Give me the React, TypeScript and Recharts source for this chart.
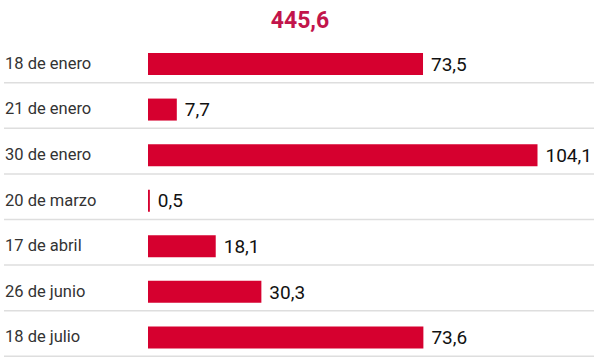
import { Bar, BarChart, LabelList, XAxis, YAxis } from "recharts";

const dates = [
  "18 de enero",
  "21 de enero",
  "30 de enero",
  "20 de marzo",
  "17 de abril",
  "26 de junio",
  "18 de julio",
];
const values = [73.5, 7.7, 104.1, 0.5, 18.1, 30.3, 73.6];
const total = "445,6";

const data = dates.map((d, i) => ({ date: d, value: values[i] }));

const fmt = (v: number) => v.toFixed(1).replace(".", ",");

function DateTick(props: any) {
  const { y, payload } = props;
  return (
    <g>
      <text
        x={5}
        y={y}
        dy={5}
        textAnchor="start"
        fontSize={16.5}
        fill="#333"
        fontFamily="Roboto, sans-serif"
      >
        {payload.value}
      </text>
      <line x1={4} x2={594} y1={y + 19} y2={y + 19} stroke="#dedede" strokeWidth={1.5} />
    </g>
  );
}

export default function App() {
  return (
    <div style={{ position: "absolute", left: 0, top: 0, width: 600, height: 360, background: "#fff", fontFamily: "Roboto, sans-serif" }}>
      <div
        style={{
          position: "absolute",
          top: 7,
          left: 0,
          width: 600,
          textAlign: "center",
          fontSize: 23,
          fontWeight: 700,
          color: "#c2154b",
          lineHeight: "28px",
        }}
      >
        {total}
      </div>
      <BarChart
        width={600}
        height={360}
        data={data}
        layout="vertical"
        margin={{ top: 41, right: 3, bottom: 0, left: 0 }}
        barCategoryGap={0}
      >
        <XAxis type="number" domain={[0, 120]} hide />
        <YAxis
          type="category"
          dataKey="date"
          width={148}
          axisLine={false}
          tickLine={false}
          tick={<DateTick />}
          interval={0}
        />
        <Bar dataKey="value" fill="#d6002f" barSize={22} isAnimationActive={false}>
          <LabelList
            dataKey="value"
            position="right"
            offset={8}
            formatter={(v: any) => fmt(Number(v))}
            style={{ fontSize: 19, fill: "#111", fontFamily: "Roboto, sans-serif" }}
          />
        </Bar>
      </BarChart>
    </div>
  );
}
